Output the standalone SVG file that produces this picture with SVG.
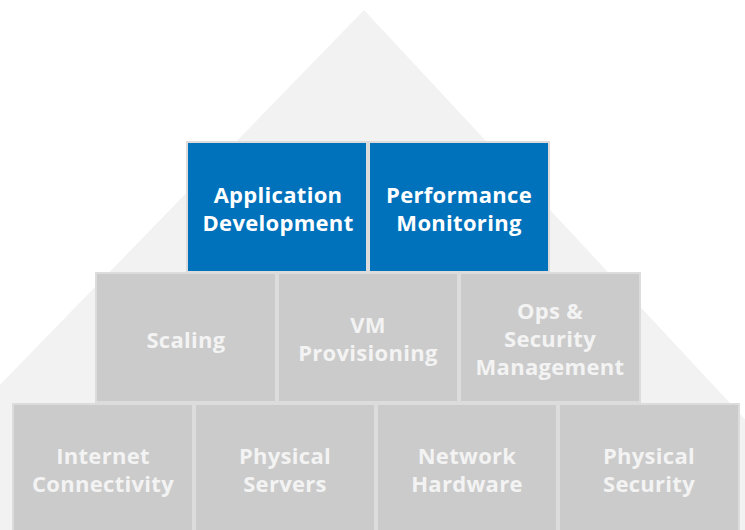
<svg xmlns="http://www.w3.org/2000/svg" width="745" height="530" viewBox="0 0 745 530">
  <style>
    .box { stroke: #dcdcdc; stroke-width: 2; }
    .blue { fill: #0072bb; }
    .grey { fill: #cbcbcb; }
    .lbl { font-family: "Open Sans", "Liberation Sans", sans-serif; font-weight: 700; font-size: 22px; letter-spacing: 0.3px; text-anchor: middle; }
    .lw { fill: #ffffff; }
    .lg { fill: #f3f3f3; }
  </style>
  <rect x="0" y="0" width="745" height="530" fill="#ffffff"/>
  <polygon id="background-triangle" points="364,10 -141,530 848,530" fill="#f2f2f2"/>
  <g id="connectors"/>

  <!-- Top row -->
  <g id="app-dev">
    <rect class="box blue" x="187" y="142" width="180" height="130"/>
    <text class="lbl lw" x="278" y="203">Application</text>
    <text class="lbl lw" x="278" y="231">Development</text>
  </g>
  <g id="perf-mon">
    <rect class="box blue" x="369" y="142" width="180" height="130"/>
    <text class="lbl lw" x="459" y="203">Performance</text>
    <text class="lbl lw" x="459" y="231">Monitoring</text>
  </g>

  <!-- Middle row -->
  <g id="scaling">
    <rect class="box grey" x="96" y="273" width="180" height="129"/>
    <text class="lbl lg" x="186" y="348">Scaling</text>
  </g>
  <g id="vm-prov">
    <rect class="box grey" x="278" y="273" width="180" height="129"/>
    <text class="lbl lg" x="368" y="333">VM</text>
    <text class="lbl lg" x="368" y="361">Provisioning</text>
  </g>
  <g id="ops-sec">
    <rect class="box grey" x="460" y="273" width="180" height="129"/>
    <text class="lbl lg" x="550" y="319">Ops &amp;</text>
    <text class="lbl lg" x="550" y="347">Security</text>
    <text class="lbl lg" x="550" y="375">Management</text>
  </g>

  <!-- Bottom row -->
  <g id="internet">
    <rect class="box grey" x="13" y="404" width="180" height="130"/>
    <text class="lbl lg" x="103" y="464">Internet</text>
    <text class="lbl lg" x="103" y="492">Connectivity</text>
  </g>
  <g id="phys-servers">
    <rect class="box grey" x="195" y="404" width="180" height="130"/>
    <text class="lbl lg" x="285" y="464">Physical</text>
    <text class="lbl lg" x="285" y="492">Servers</text>
  </g>
  <g id="net-hw">
    <rect class="box grey" x="377" y="404" width="180" height="130"/>
    <text class="lbl lg" x="467" y="464">Network</text>
    <text class="lbl lg" x="467" y="492">Hardware</text>
  </g>
  <g id="phys-sec">
    <rect class="box grey" x="559" y="404" width="180" height="130"/>
    <text class="lbl lg" x="649" y="464">Physical</text>
    <text class="lbl lg" x="649" y="492">Security</text>
  </g>
</svg>
